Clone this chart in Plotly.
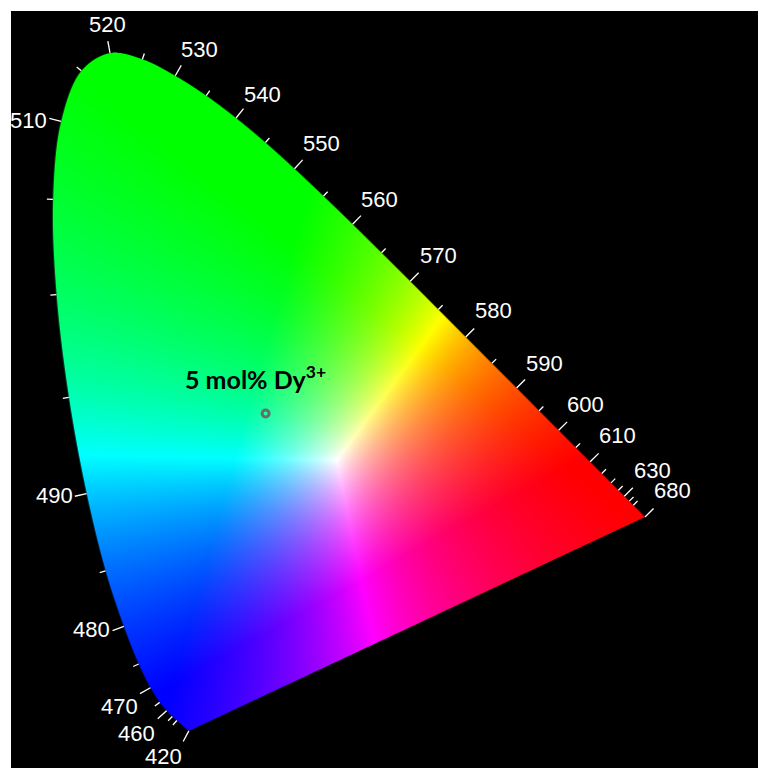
import base64
import struct
import zlib

import numpy as np
import plotly.graph_objects as go

# ---------------- data ----------------
# CIE 1931 2-degree spectral locus chromaticity coordinates (5 nm steps)
wavelengths = list(range(380, 705, 5))
locus_x = [0.1741, 0.1740, 0.1738, 0.1736, 0.1733, 0.1730, 0.1726, 0.1721,
           0.1714, 0.1703, 0.1689, 0.1669, 0.1644, 0.1611, 0.1566, 0.1510,
           0.1440, 0.1355, 0.1241, 0.1096, 0.0913, 0.0687, 0.0454, 0.0235,
           0.0082, 0.0039, 0.0139, 0.0389, 0.0743, 0.1142, 0.1547, 0.1929,
           0.2296, 0.2658, 0.3016, 0.3373, 0.3731, 0.4087, 0.4441, 0.4788,
           0.5125, 0.5448, 0.5752, 0.6029, 0.6270, 0.6482, 0.6658, 0.6801,
           0.6915, 0.7006, 0.7079, 0.7140, 0.7190, 0.7230, 0.7260, 0.7283,
           0.7300, 0.7311, 0.7320, 0.7327, 0.7334, 0.7340, 0.7344, 0.7346,
           0.7347]
locus_y = [0.0050, 0.0050, 0.0049, 0.0049, 0.0048, 0.0048, 0.0048, 0.0048,
           0.0051, 0.0058, 0.0069, 0.0086, 0.0109, 0.0138, 0.0177, 0.0227,
           0.0297, 0.0399, 0.0578, 0.0868, 0.1327, 0.2007, 0.2950, 0.4127,
           0.5384, 0.6548, 0.7502, 0.8120, 0.8338, 0.8262, 0.8059, 0.7816,
           0.7543, 0.7243, 0.6923, 0.6589, 0.6245, 0.5896, 0.5547, 0.5202,
           0.4866, 0.4544, 0.4242, 0.3965, 0.3725, 0.3514, 0.3340, 0.3197,
           0.3083, 0.2993, 0.2920, 0.2859, 0.2809, 0.2770, 0.2740, 0.2717,
           0.2700, 0.2689, 0.2680, 0.2673, 0.2666, 0.2660, 0.2656, 0.2654,
           0.2653]

locus_start, locus_end = 420, 680
label_wavelengths = [420, 460, 470, 480, 490, 510, 520, 530, 540, 550,
                     560, 570, 580, 590, 600, 610, 630, 680]
tick_wavelengths = [420] + list(range(450, 645, 5)) + [680]

sample_names = ["5 mol% Dy<sup>3+</sup>"]
sample_x = [0.266]
sample_y = [0.393]

# ---------------- styles / layout ----------------
W_FIG, H_FIG = 758, 768
M_L, M_T = 11, 11
X_RANGE = [-0.0477, 0.8726]
Y_RANGE = [-0.0403, 0.8851]
SX = (W_FIG - M_L) / (X_RANGE[1] - X_RANGE[0])   # px per unit
SY = (H_FIG - M_T) / (Y_RANGE[1] - Y_RANGE[0])

# label pixel offsets (xshift, yshift) from the locus point
label_offsets = {
    420: (-25, -26), 460: (-30, -23), 470: (-31, -19), 480: (-32, -3),
    490: (-32, -2), 510: (-33, 1), 520: (-3, 28), 530: (24, 26),
    540: (26, 24), 550: (27, 25), 560: (27, 25), 570: (28, 26),
    580: (28, 26), 590: (28, 25), 600: (27, 26), 610: (27, 26),
    630: (28, 26), 680: (27, 26),
}
TICK_LONG, TICK_SHORT = 12, 6
WHITE_POINT = (0.354, 0.336)
PRIMARIES = [(0.64, 0.33), (0.30, 0.60), (0.15, 0.06)]

lx = np.array(locus_x)
ly = np.array(locus_y)
wl = np.array(wavelengths)


def pt(w):
    i = wavelengths.index(w)
    return lx[i], ly[i]


# ---------------- colour image of the gamut ----------------
sel = (wl >= locus_start) & (wl <= locus_end)
P = np.stack([lx[sel] * SX, ly[sel] * SY], axis=1)  # pixel-scaled coords


def catmull_rom(P, n=10):
    out = []
    m = len(P)
    for i in range(m - 1):
        p0 = P[i - 1] if i > 0 else 2 * P[i] - P[i + 1]
        p1, p2 = P[i], P[i + 1]
        p3 = P[i + 2] if i + 2 < m else 2 * P[i + 1] - P[i]
        t0 = 0.0
        t1 = t0 + max(np.linalg.norm(p1 - p0), 1e-6) ** 0.5
        t2 = t1 + max(np.linalg.norm(p2 - p1), 1e-6) ** 0.5
        t3 = t2 + max(np.linalg.norm(p3 - p2), 1e-6) ** 0.5
        for t in np.linspace(t1, t2, n, endpoint=False):
            a1 = (t1 - t) / (t1 - t0) * p0 + (t - t0) / (t1 - t0) * p1
            a2 = (t2 - t) / (t2 - t1) * p1 + (t - t1) / (t2 - t1) * p2
            a3 = (t3 - t) / (t3 - t2) * p2 + (t - t2) / (t3 - t2) * p3
            b1 = (t2 - t) / (t2 - t0) * a1 + (t - t0) / (t2 - t0) * a2
            b2 = (t3 - t) / (t3 - t1) * a2 + (t - t1) / (t3 - t1) * a3
            c = (t2 - t) / (t2 - t1) * b1 + (t - t1) / (t2 - t1) * b2
            out.append(c)
    out.append(P[-1])
    return np.array(out)


curve = catmull_rom(P)
curve = np.vstack([curve, curve[:1]])  # close with purple line
bx = curve[:, 0] / SX
by = curve[:, 1] / SY
ex1, ey1, ex2, ey2 = bx[:-1], by[:-1], bx[1:], by[1:]

IMG_X0, IMG_X1, IMG_Y0, IMG_Y1 = 0.0, 0.74, 0.0, 0.84
SS = 2
Wi = int(round((IMG_X1 - IMG_X0) * SX * SS))
Hi = int(round((IMG_Y1 - IMG_Y0) * SY * SS))
dxp = (IMG_X1 - IMG_X0) / Wi
dyp = (IMG_Y1 - IMG_Y0) / Hi
gx = IMG_X0 + (np.arange(Wi) + 0.5) * dxp
gy = IMG_Y1 - (np.arange(Hi) + 0.5) * dyp

Y = gy[:, None]
cross = ((ey1[None, :] <= Y) & (ey2[None, :] > Y)) | ((ey2[None, :] <= Y) & (ey1[None, :] > Y))
den = np.where(ey2 - ey1 == 0, 1e-12, ey2 - ey1)
xint = ex1[None, :] + (Y - ey1[None, :]) * (ex2 - ex1)[None, :] / den[None, :]
xmin = np.where(cross, xint, np.inf).min(axis=1)
xmax = np.where(cross, xint, -np.inf).max(axis=1)
has = np.isfinite(xmin) & np.isfinite(xmax)
GX = gx[None, :]
cov = np.minimum(GX - xmin[:, None], xmax[:, None] - GX) / dxp + 0.5
cov = np.where(has[:, None], np.clip(cov, 0, 1), 0.0)


def xyz_of(x, y):
    return np.array([x / y, 1.0, (1 - x - y) / y])


Pm = np.stack([xyz_of(*p) for p in PRIMARIES], axis=1)
S = np.linalg.solve(Pm, xyz_of(*WHITE_POINT))
M = Pm * S[None, :]
Minv = np.linalg.inv(M)

GXf = np.broadcast_to(gx[None, :], (Hi, Wi))
GYf = np.broadcast_to(gy[:, None], (Hi, Wi))
XYZ = np.stack([GXf, GYf, 1 - GXf - GYf], axis=-1)
rgb = XYZ @ Minv.T
rgb = np.clip(rgb, 0, None)
mx = np.maximum(rgb.max(axis=-1, keepdims=True), 1e-9)
rgb = rgb / mx

img = np.zeros((Hi, Wi, 4), dtype=np.uint8)
img[..., :3] = np.round(rgb * 255).astype(np.uint8)
img[..., 3] = np.round(cov * 255).astype(np.uint8)


def png_bytes(a):
    h, w, _ = a.shape
    ai = a.astype(np.int16)
    diff = ai.copy()
    diff[:, 1:, :] -= ai[:, :-1, :]
    diff = (diff & 0xFF).astype(np.uint8)
    raw = np.empty((h, 1 + w * 4), dtype=np.uint8)
    raw[:, 0] = 1
    raw[:, 1:] = diff.reshape(h, -1)

    def chunk(tag, data):
        c = struct.pack(">I", len(data)) + tag + data
        return c + struct.pack(">I", zlib.crc32(tag + data) & 0xFFFFFFFF)

    ihdr = struct.pack(">IIBBBBB", w, h, 8, 6, 0, 0, 0)
    return (b"\x89PNG\r\n\x1a\n" + chunk(b"IHDR", ihdr)
            + chunk(b"IDAT", zlib.compress(raw.tobytes(), 9)) + chunk(b"IEND", b""))


uri = "data:image/png;base64," + base64.b64encode(png_bytes(img)).decode()

# ---------------- ticks ----------------
cx, cy = bx.mean() * SX, by.mean() * SY
tick_x, tick_y = [], []
for w in tick_wavelengths:
    i = wavelengths.index(w)
    p = np.array([lx[i] * SX, ly[i] * SY])
    pp = np.array([lx[i - 1] * SX, ly[i - 1] * SY])
    pn = np.array([lx[i + 1] * SX, ly[i + 1] * SY])
    t = (pn - p) / np.linalg.norm(pn - p) - (pp - p) / np.linalg.norm(pp - p)
    n = np.array([-t[1], t[0]])
    n /= np.linalg.norm(n)
    if np.dot(n, p - np.array([cx, cy])) < 0:
        n = -n
    L = TICK_LONG if w in label_wavelengths else TICK_SHORT
    q = p + n * L
    tick_x += [p[0] / SX, q[0] / SX, None]
    tick_y += [p[1] / SY, q[1] / SY, None]

fig = go.Figure()
fig.add_trace(go.Scatter(x=tick_x, y=tick_y, mode="lines",
                         line=dict(color="white", width=1.3),
                         hoverinfo="skip", showlegend=False))
fig.add_trace(go.Scatter(x=sample_x, y=sample_y, mode="markers",
                         marker=dict(symbol="circle-open", size=7, color="#6c6c6c",
                                     line=dict(width=3)),
                         hoverinfo="skip", showlegend=False))

annotations = []
for w in label_wavelengths:
    x, y = pt(w)
    xs, ys = label_offsets[w]
    annotations.append(dict(x=x, y=y, xref="x", yref="y", text=str(w), showarrow=False,
                            xanchor="center", yanchor="middle", xshift=xs, yshift=ys,
                            font=dict(family="Liberation Sans, Arial, sans-serif",
                                      size=22, color="white")))
for name, sx_, sy_ in zip(sample_names, sample_x, sample_y):
    annotations.append(dict(x=sx_, y=sy_, xref="x", yref="y", text="<b>" + name + "</b>",
                            showarrow=False, xanchor="center", yanchor="middle",
                            xshift=-10, yshift=36,
                            font=dict(family="Lato, Open Sans, sans-serif", size=25,
                                      color="black")))

fig.update_layout(
    width=W_FIG, height=H_FIG,
    margin=dict(l=M_L, r=0, t=M_T, b=0, pad=0),
    paper_bgcolor="white", plot_bgcolor="black",
    xaxis=dict(range=X_RANGE, visible=False, fixedrange=True),
    yaxis=dict(range=Y_RANGE, visible=False, fixedrange=True),
    images=[dict(source=uri, xref="x", yref="y", x=IMG_X0, y=IMG_Y1,
                 sizex=IMG_X1 - IMG_X0, sizey=IMG_Y1 - IMG_Y0, sizing="stretch",
                 xanchor="left", yanchor="top", layer="below")],
    annotations=annotations,
    showlegend=False,
)

fig.write_html("out.html", config={"displayModeBar": False})

# remove the browser's default page margin so the figure sits at (0, 0)
with open("out.html", "r", encoding="utf-8") as f:
    html = f.read()
html = html.replace("<head>", "<head><style>html,body{margin:0;padding:0;overflow:hidden;}</style>", 1)
with open("out.html", "w", encoding="utf-8") as f:
    f.write(html)
